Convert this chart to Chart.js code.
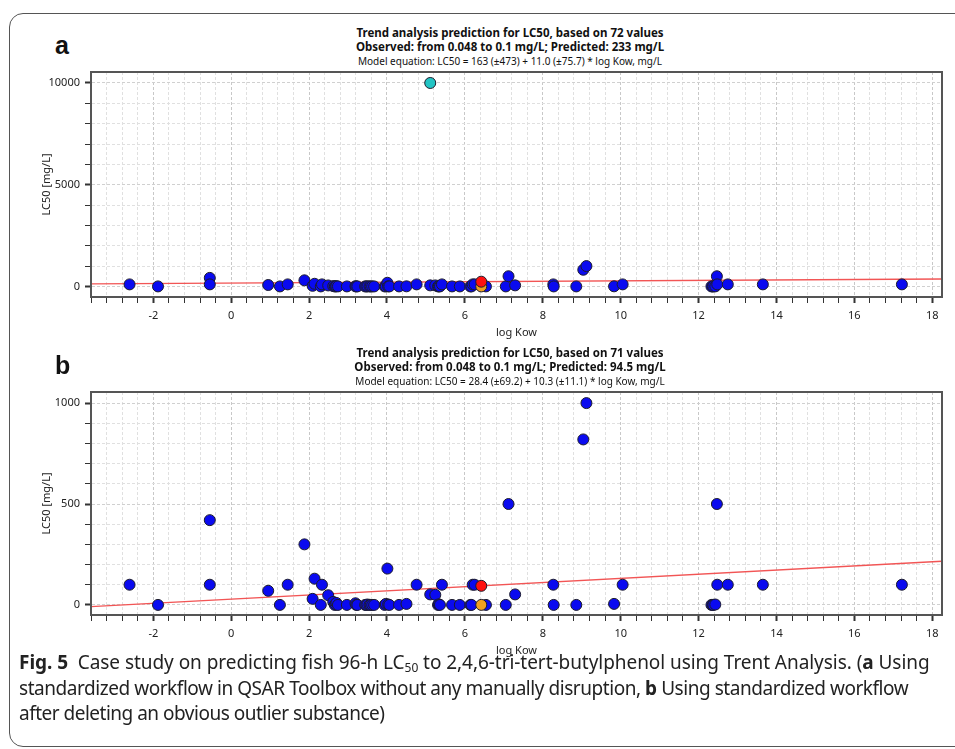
<!DOCTYPE html>
<html>
<head>
<meta charset="utf-8">
<script src="https://cdn.jsdelivr.net/npm/chart.js@4.4.1/dist/chart.umd.min.js"></script>
<style>
  html, body { margin: 0; padding: 0; background: #fff; overflow: hidden; }
  body { width: 955px; height: 749px; position: relative; font-family: "Noto Sans", sans-serif; color: #111; }
  .frame { position: absolute; left: 9px; top: 13px; width: 1000px; height: 734px; border: 1.5px solid #555; border-radius: 14px; box-sizing: border-box; }
  .letter { position: absolute; left: 55px; font: bold 25px "Liberation Sans", Arial, sans-serif; line-height: 28px; }
  .head { position: absolute; left: 310px; width: 400px; text-align: center; white-space: nowrap; line-height: 14px; }
  .head.bold { font-weight: bold; font-size: 11.5px; }
  .head.small { font-size: 10px; }
  .chart_box { position: absolute; left: 0; }
  .caption { position: absolute; left: 19px; top: 650px; font-family: "Noto Sans", sans-serif; font-size: 19px; line-height: 25.5px; white-space: nowrap; color: #222; }
  .caption div { height: 25.5px; }
  .caption sub { font-size: 12px; vertical-align: -3px; line-height: 0; }
</style>
</head>
<body>
<div class="frame"></div>

<div class="letter" style="top: 31px;">a</div>
<div class="head bold" style="top: 26px;">Trend analysis prediction for LC50, based on 72 values</div>
<div class="head bold" style="top: 40px;">Observed: from 0.048 to 0.1 mg/L; Predicted: 233 mg/L</div>
<div class="head small" style="top: 54px;">Model equation: LC50 = 163 (±473) + 11.0 (±75.7) * log Kow, mg/L</div>
<div class="chart_box" style="top: 60px;"><canvas id="chart_a" width="955" height="295"></canvas></div>

<div class="letter" style="top: 351px;">b</div>
<div class="head bold" style="top: 346px;">Trend analysis prediction for LC50, based on 71 values</div>
<div class="head bold" style="top: 360px;">Observed: from 0.048 to 0.1 mg/L; Predicted: 94.5 mg/L</div>
<div class="head small" style="top: 374px;">Model equation: LC50 = 28.4 (±69.2) + 10.3 (±11.1) * log Kow, mg/L</div>
<div class="chart_box" style="top: 380px;"><canvas id="chart_b" width="955" height="293"></canvas></div>

<div class="caption">
  <div style="letter-spacing: -0.05px;"><b>Fig. 5</b>&nbsp; Case study on predicting fish 96-h LC<sub>50</sub> to 2,4,6-tri-tert-butylphenol using Trent Analysis. (<b>a</b> Using</div>
  <div style="letter-spacing: -0.45px;">standardized workflow in QSAR Toolbox without any manually disruption, <b>b</b> Using standardized workflow</div>
  <div style="letter-spacing: -0.5px;">after deleting an obvious outlier substance)</div>
</div>

<script>
// neighbour substances (blue), same in both panels
const log_kow = [-2.61, -1.88, -0.55, -0.55, 0.95, 1.25, 1.45, 1.88, 2.09, 2.14, 2.30, 2.33, 2.49, 2.62, 2.66, 2.68, 2.70, 2.74, 2.97, 3.19,
  3.21, 3.24, 3.44, 3.47, 3.50, 3.55, 3.58, 3.62, 3.67, 3.94, 3.97, 4.01, 4.03, 4.06, 4.31, 4.50, 4.76, 5.11, 5.24, 5.31,
  5.33, 5.36, 5.41, 5.67, 5.87, 6.14, 6.17, 6.20, 6.25, 6.54, 7.05, 7.12, 7.29, 8.27, 8.28, 8.86, 9.04, 9.12, 9.83, 10.05,
  12.33, 12.36, 12.38, 12.43, 12.47, 12.48, 12.75, 13.65, 17.22];
const lc50 = [100, 0, 420, 100, 70, 0, 100, 300, 30, 130, 0, 100, 48, 15, 0, 3, 10, 0, 0, 8,
  0, 0, 0, 0, 2, 0, 0, 0, 0, 0, 5, 180, 2, 0, 0, 5, 100, 52, 50, 0,
  3, 0, 100, 0, 0, 0, 0, 100, 100, 0, 0, 500, 52, 100, 0, 0, 820, 1000, 5, 100,
  0, 0, 0, 2, 500, 100, 100, 100, 100];

// outlier removed in panel b
const outlier_log_kow = [5.11];
const outlier_lc50 = [10000];

// target substance
const target_log_kow = [6.42];
const target_observed = [0.1];
const target_predicted = [233, 94.5];

// regression models, panel a and b
const fit_intercept = [163, 28.4];
const fit_slope = [11.0, 10.3];

const x_range = [-3.6, 18.25];
const x_labels = [-2, 0, 2, 4, 6, 8, 10, 12, 14, 16, 18];
const x_minor_step = 0.4;

const y_range_a = [-520, 10540];
const y_ticks_a = [0, 1000, 2000, 3000, 4000, 5000, 6000, 7000, 8000, 9000, 10000];
const y_labels_a = [0, 5000, 10000];

const y_range_b = [-50, 1055];
const y_ticks_b = [0, 100, 200, 300, 400, 500, 600, 700, 800, 900, 1000];
const y_labels_b = [0, 500, 1000];

const TICK_FONT = { family: "Noto Sans", size: 11 };

function has_value(list, v) {
  return list.some((t) => Math.abs(t - v) < 1e-6);
}

function to_points(xs, ys) {
  return xs.map((x, i) => ({ x, y: ys[i] }));
}

function x_tick_values() {
  const out = [];
  const first = Math.ceil(x_range[0] / x_minor_step - 1e-9);
  const last = Math.floor(x_range[1] / x_minor_step + 1e-9);
  for (let k = first; k <= last; k++) out.push({ value: Math.round(k * x_minor_step * 100) / 100 });
  return out;
}

const frame_plugin = {
  id: "frame",
  afterDraw(chart) {
    const { ctx, chartArea: a } = chart;
    ctx.save();
    ctx.strokeStyle = "#555";
    ctx.lineWidth = 2;
    ctx.strokeRect(a.left, a.top, a.right - a.left, a.bottom - a.top);
    ctx.restore();
  },
};

function point_set(data, color, order) {
  return {
    data,
    order,
    pointRadius: 5.5,
    pointBorderWidth: 1,
    pointBackgroundColor: color,
    pointBorderColor: "#1c1c2c",
    showLine: false,
  };
}

function make_panel(canvas_id, idx, y_range, y_ticks, y_labels, extra_sets) {
  const fit_line = x_range.map((x) => ({ x, y: fit_intercept[idx] + fit_slope[idx] * x }));
  const datasets = [
    { data: fit_line, showLine: true, borderColor: "#f25555", borderWidth: 1.4, pointRadius: 0, order: 10 },
    point_set(to_points(log_kow, lc50), "#0a0af0", 5),
    ...extra_sets,
    point_set(to_points(target_log_kow, target_observed), "#f0a020", 2),
    point_set(to_points(target_log_kow, [target_predicted[idx]]), "#ff1010", 1),
  ];

  return new Chart(document.getElementById(canvas_id), {
    type: "scatter",
    data: { datasets },
    options: {
      responsive: false,
      animation: false,
      layout: { padding: { top: 12, right: 13, left: 0, bottom: 0 } },
      plugins: { legend: { display: false }, tooltip: { enabled: false } },
      scales: {
        x: {
          type: "linear",
          min: x_range[0],
          max: x_range[1],
          afterBuildTicks: (s) => { s.ticks = x_tick_values(); },
          afterFit: (s) => { s.height = 58; },
          ticks: {
            autoSkip: false,
            maxRotation: 0,
            padding: 6,
            font: TICK_FONT,
            color: "#222",
            callback: (v) => (has_value(x_labels, v) ? String(Math.round(v)) : ""),
          },
          grid: {
            color: (c) => (has_value(x_labels, c.tick.value) ? "#c8c8c8" : "#e0e0e0"),
            tickColor: "#333",
            tickWidth: (c) => (has_value(x_labels, c.tick.value) ? 2 : 1),
            tickLength: 6,
          },
          border: { color: "#555", width: 2, dash: [3, 2] },
          title: { display: true, text: "log Kow", color: "#222", font: TICK_FONT, padding: { top: 0, bottom: 16 } },
        },
        y: {
          type: "linear",
          min: y_range[0],
          max: y_range[1],
          afterBuildTicks: (s) => { s.ticks = y_ticks.map((value) => ({ value })); },
          afterFit: (s) => { s.width = 91; },
          ticks: {
            autoSkip: false,
            padding: 5,
            font: TICK_FONT,
            color: "#222",
            callback: (v) => (has_value(y_labels, v) ? String(v) : ""),
          },
          grid: {
            color: (c) => (has_value(y_labels, c.tick.value) ? "#d0d0d0" : "#e0e0e0"),
            tickColor: "#333",
            tickWidth: (c) => (has_value(y_labels, c.tick.value) ? 2 : 1),
            tickLength: 6,
          },
          border: { color: "#555", width: 2, dash: [3, 2] },
          title: { display: true, text: "LC50 [mg/L]", color: "#222", font: TICK_FONT, padding: { top: 40, bottom: 0 } },
        },
      },
    },
    plugins: [frame_plugin],
  });
}

make_panel("chart_a", 0, y_range_a, y_ticks_a, y_labels_a, [
  point_set(to_points(outlier_log_kow, outlier_lc50), "#22c4c4", 3),
]);
make_panel("chart_b", 1, y_range_b, y_ticks_b, y_labels_b, []);
</script>
</body>
</html>
